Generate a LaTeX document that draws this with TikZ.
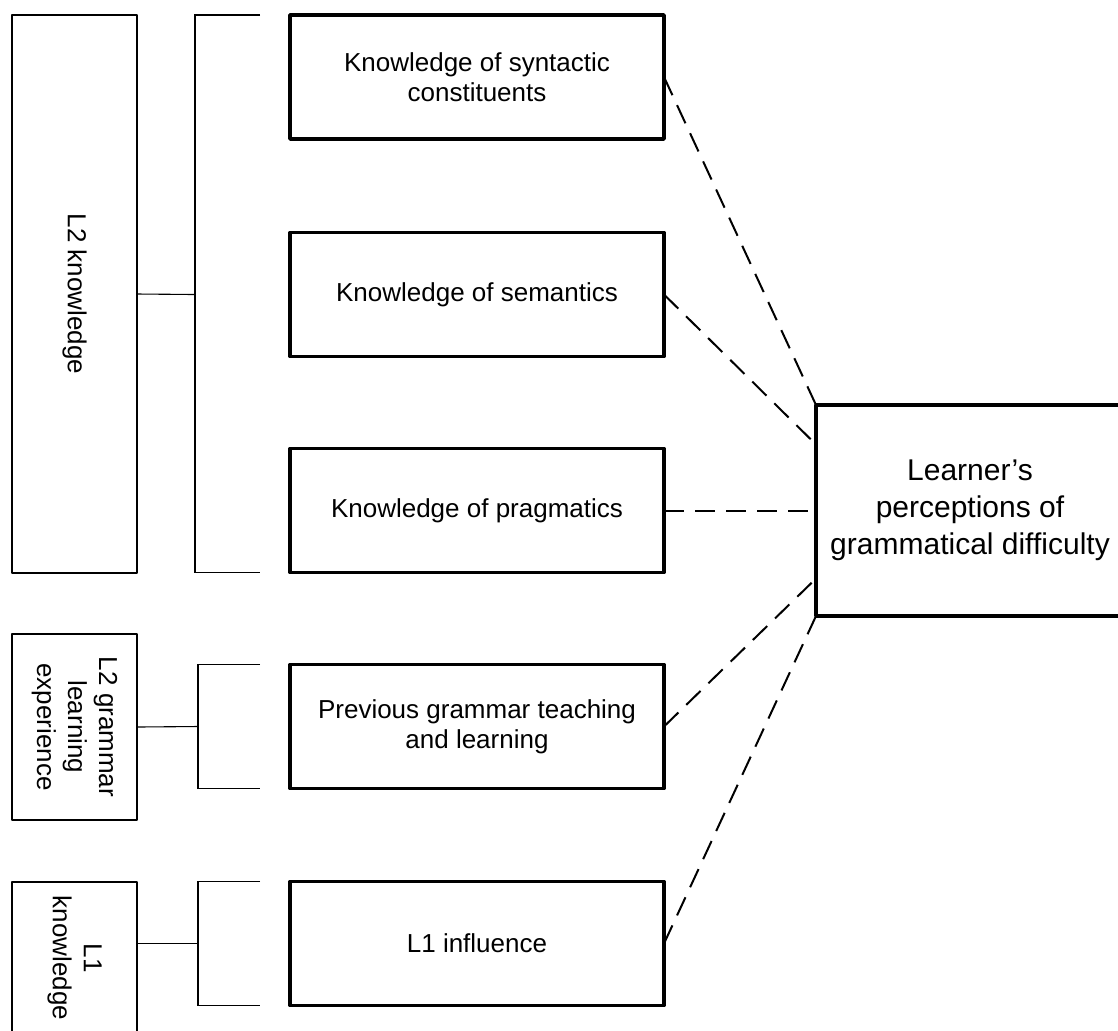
\documentclass[tikz,border=0pt]{standalone}
\usepackage{fontspec}
\setmainfont{Liberation Sans}
\usetikzlibrary{calc}

\begin{document}
\begin{tikzpicture}[line cap=round,line join=round,x=0.5pt,y=-0.5pt,
	factor/.style={draw,line width=1.8pt,minimum width=187pt,minimum height=62pt,inner sep=0pt,outer sep=0pt,align=center,font=\fontsize{13}{15}\selectfont},
	source/.style={draw,line width=0.8pt,minimum width=62.5pt,inner sep=0pt,outer sep=0pt},
	sourcetext/.style={rotate=-90,align=center,inner sep=0pt,font=\fontsize{13}{15.5}\selectfont},
	bracket/.style={line width=0.55pt,line cap=butt,line join=miter},
	link/.style={line width=1pt,line cap=butt,dash pattern=on 10pt off 5.5pt}]
	\path[use as bounding box] (0,0) rectangle (1118,1030);
	\clip (0,0) rectangle (1118,1030);
	% the five factors
	\node[factor] (syn) at (477,77) {Knowledge of syntactic\\constituents};
	\node[factor] (sem) at (477,294.5) {Knowledge of semantics};
	\node[factor] (prag) at (477,510.5) {Knowledge of pragmatics};
	\node[factor] (prev) at (477,726.5) {Previous grammar teaching\\and learning};
	\node[factor] (lone) at (477,943.5) {L1 influence};
	\node[factor,minimum width=154pt,minimum height=105.5pt,font=\fontsize{15}{18.5}\selectfont] (learner) at (970,510.5) {Learner’s\\perceptions of\\grammatical difficulty};
	% the three sources on the left
	\node[source,minimum height=279pt] (ltwok) at (74.5,294) {};
	\node[sourcetext] (ltwoktext) at (ltwok.center) {L2 knowledge};
	\node[source,minimum height=93pt] (ltwog) at (74.5,727) {};
	\node[sourcetext] (ltwogtext) at (ltwog.center) {L2 grammar\\learning\\experience};
	\node[source,minimum height=76pt] (lonek) at (74.5,958) {};
	\node[sourcetext] (lonektext) at (lonek.center) {L1\\knowledge};
	% brackets
	\draw[bracket] ([xshift=-15pt]syn.north west) -| ([xshift=-47.5pt]prag.south west) -- ([xshift=-15pt]prag.south west);
	\draw[bracket] (ltwok.east) -- ([xshift=-47.5pt]sem.west);
	\draw[bracket] ([xshift=-15pt]prev.north west) -| ([xshift=-46pt]prev.south west) -- ([xshift=-15pt]prev.south west);
	\draw[bracket] (ltwog.east) -- ([xshift=-46pt]prev.west);
	\draw[bracket] ([xshift=-15pt]lone.north west) -| ([xshift=-46pt]lone.south west) -- ([xshift=-15pt]lone.south west);
	\draw[bracket] (lonek.east |- lone.west) -- ([xshift=-46pt]lone.west);
	% dashed links
	\draw[link] (syn.east) -- (learner.north west);
	\draw[link] (sem.east) -- ([yshift=33pt]learner.west);
	\draw[link] (prag.east) -- (learner.west);
	\draw[link] (prev.east) -- ([yshift=-34pt]learner.west);
	\draw[link] (lone.east) -- (learner.south west);
\end{tikzpicture}
\end{document}
